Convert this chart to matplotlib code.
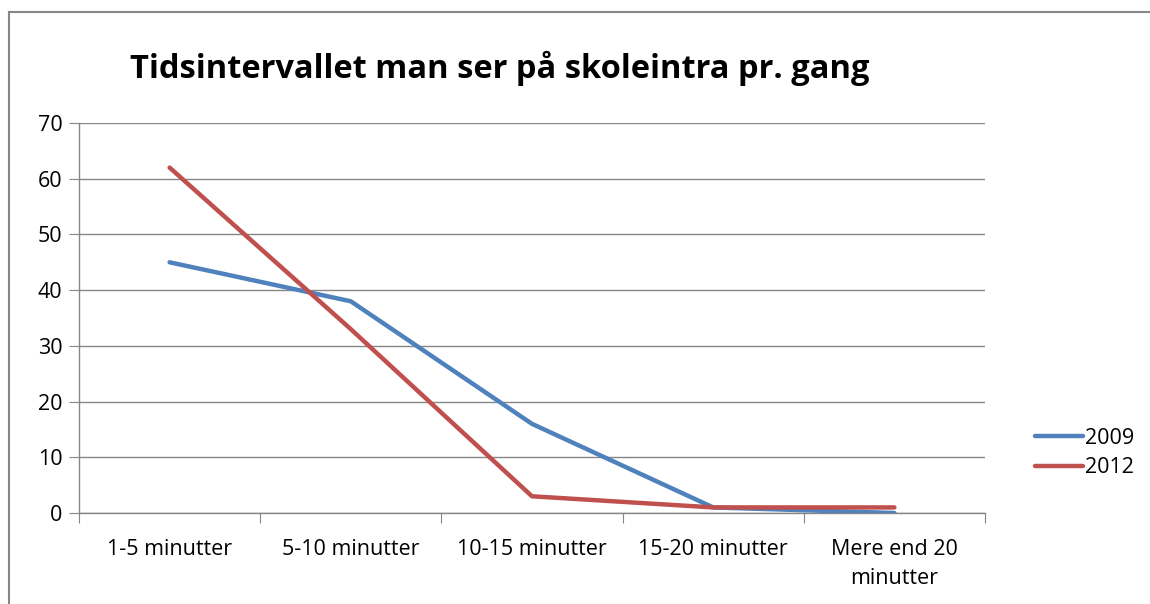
import matplotlib.pyplot as plt
import numpy as np

# Data
kategorier = ["1-5 minutter", "5-10 minutter", "10-15 minutter", "15-20 minutter", "Mere end 20\nminutter"]
vaerdier_2009 = [45, 38, 16, 1, 0]
vaerdier_2012 = [62, 33, 3, 1, 1]
y_ticks = [0, 10, 20, 30, 40, 50, 60, 70]

plt.rcParams['font.family'] = ['Open Sans', 'DejaVu Sans']

fig = plt.figure(figsize=(11.5, 6.04), dpi=100)
ax = fig.add_axes([79 / 1150, 1 - 513 / 604, (985 - 79) / 1150, (513 - 123) / 604])

x = np.arange(len(kategorier))
ax.plot(x, vaerdier_2009, color='#4F81BD', lw=3.2, label='2009', solid_capstyle='round', zorder=3)
ax.plot(x, vaerdier_2012, color='#C0504D', lw=3.2, label='2012', solid_capstyle='round', zorder=3)

ax.set_xlim(-0.5, len(kategorier) - 0.5)
ax.set_ylim(0, 70)
ax.set_yticks(y_ticks)
ax.grid(axis='y', color='#868686', lw=1)
ax.set_axisbelow(True)

for s in ['top', 'right']:
    ax.spines[s].set_visible(False)
for s in ['left', 'bottom']:
    ax.spines[s].set_color('#868686')
    ax.spines[s].set_linewidth(1)

# category ticks at boundaries, labels centred
ax.set_xticks(np.arange(len(kategorier) + 1) - 0.5)
ax.set_xticklabels([])
ax.set_xticks(x, minor=True)
ax.set_xticklabels(kategorier, minor=True, fontsize=15.5, linespacing=1.5)
ax.tick_params(axis='x', which='major', length=7, color='#868686', direction='out')
ax.tick_params(axis='x', which='minor', length=0, pad=19)
ax.tick_params(axis='y', length=7, color='#868686', labelsize=15.5, pad=5)

fig.text(500 / 1150, 1 - 68 / 604, "Tidsintervallet man ser på skoleintra pr. gang",
         ha='center', va='center', fontsize=23.5, fontweight='bold')

ax.legend(loc='center left', bbox_to_anchor=(1016 / 1150, 1 - 453 / 604), bbox_transform=fig.transFigure,
          frameon=False, fontsize=15.5, handlelength=2.2, handletextpad=0.1, labelspacing=0.4)

# chart area border (left and top only visible in reference)
fig.add_artist(plt.Line2D([8.5 / 1150, 8.5 / 1150], [0, 1 - 11.5 / 604], color='#868686', lw=1.5))
fig.add_artist(plt.Line2D([8.5 / 1150, 1], [1 - 11.5 / 604, 1 - 11.5 / 604], color='#868686', lw=1.5))

fig.savefig('out.png', dpi=100)
